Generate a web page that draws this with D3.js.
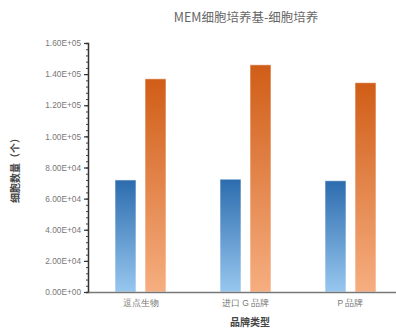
<!DOCTYPE html>
<html>
<head>
<meta charset="utf-8">
<script src="https://cdn.jsdelivr.net/npm/d3@7"></script>
<style>
  html, body { margin: 0; padding: 0; background: #fff; }
  svg { display: block; font-family: "Noto Sans CJK SC", "Noto Sans", sans-serif; }
</style>
</head>
<body>
<svg id="chart" width="396" height="329"></svg>
<script>
// Cell counts per brand, two culture series
const brands = ["逗点生物", "进口 G 品牌", "P 品牌"];
const seriesKeys = ["a", "b"];
const seriesA = [72000, 72500, 71500];
const seriesB = [137000, 146000, 134500];
const yTicks = [0, 20000, 40000, 60000, 80000, 100000, 120000, 140000, 160000];
const yTickLabels = ["0.00E+00", "2.00E+04", "4.00E+04", "6.00E+04", "8.00E+04", "1.00E+05", "1.20E+05", "1.40E+05", "1.60E+05"];

const title = "MEM细胞培养基-细胞培养";
const xTitle = "品牌类型";
const yTitle = "细胞数量（个）";

const svg = d3.select("#chart");

const x = d3.scaleBand().domain(brands).range([88, 403]);
const xInner = d3.scaleBand().domain(seriesKeys).range([0, x.bandwidth()]).paddingInner(0.3).paddingOuter(0.9);
const y = d3.scaleLinear().domain([0, 160000]).range([292, 43]);

// Vertical gradients for each series
const defs = svg.append("defs");
const grads = [
  { id: "gA", top: "#2c6cae", bottom: "#97c7ef" },
  { id: "gB", top: "#d05d17", bottom: "#f6ae80" }
];
grads.forEach(g => {
  const lg = defs.append("linearGradient").attr("id", g.id)
    .attr("x1", 0).attr("y1", 0).attr("x2", 0).attr("y2", 1);
  lg.append("stop").attr("offset", "0%").attr("stop-color", g.top);
  lg.append("stop").attr("offset", "100%").attr("stop-color", g.bottom);
});

// Title
svg.append("text")
  .attr("x", 246).attr("y", 22)
  .attr("text-anchor", "middle")
  .attr("font-size", 12.5)
  .attr("fill", "#666")
  .text(title);

// Bars
const rows = brands.map((b, i) => ({ brand: b, a: seriesA[i], b: seriesB[i] }));
const g = svg.append("g");
rows.forEach(r => {
  seriesKeys.forEach((k, j) => {
    g.append("rect")
      .attr("x", x(r.brand) + xInner(k))
      .attr("y", y(r[k]))
      .attr("width", xInner.bandwidth())
      .attr("height", y(0) - y(r[k]))
      .attr("fill", `url(#${grads[j].id})`)
      .attr("stroke", "#fff")
      .attr("stroke-opacity", 0.6)
      .attr("stroke-width", 1);
  });
});

// Y axis with minor ticks
const yMinor = d3.range(0, 160001, 4000);
const yAxisMinor = svg.append("g").attr("transform", "translate(88,0)")
  .call(d3.axisLeft(y).tickValues(yMinor).tickSize(2).tickFormat(""));
yAxisMinor.selectAll("path").attr("stroke", "#333").attr("stroke-width", 1.5);
yAxisMinor.selectAll("line").attr("stroke", "#444");

const yAxis = svg.append("g").attr("transform", "translate(88,0)")
  .call(d3.axisLeft(y).tickValues(yTicks).tickSize(4).tickPadding(3)
    .tickFormat((d, i) => yTickLabels[i]));
yAxis.select(".domain").remove();
yAxis.selectAll("line").attr("stroke", "#333").attr("stroke-width", 1.2);
yAxis.selectAll("text").attr("font-size", 8.3).attr("fill", "#777")
  .attr("font-family", "'Liberation Sans', Arial, sans-serif");

// X axis
const xAxis = svg.append("g").attr("transform", "translate(0,292)")
  .call(d3.axisBottom(x).tickSize(0).tickPadding(8));
xAxis.select(".domain").attr("stroke", "#777").attr("stroke-width", 1.5);
xAxis.selectAll("text").attr("font-size", 8.5).attr("fill", "#777");

// Axis titles
svg.append("text")
  .attr("x", 250).attr("y", 326)
  .attr("text-anchor", "middle")
  .attr("font-size", 10)
  .attr("font-weight", "bold")
  .attr("fill", "#444")
  .text(xTitle);

svg.append("text")
  .attr("transform", "translate(19,168) rotate(-90)")
  .attr("text-anchor", "middle")
  .attr("font-size", 10)
  .attr("font-weight", "bold")
  .attr("fill", "#444")
  .text(yTitle);
</script>
</body>
</html>
